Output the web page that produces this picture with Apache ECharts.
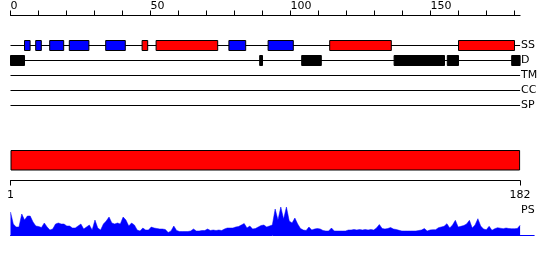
<!DOCTYPE html>
<html><head><meta charset="utf-8">
<script src="https://cdn.jsdelivr.net/npm/echarts@6/dist/echarts.min.js"></script>
<style>html,body{margin:0;padding:0;background:#fff}#c{width:550px;height:260px}</style>
</head><body><div id="c"></div>
<script>
// ---- data ----
const seqLength = 182;
const topTicks = [0,10,20,30,40,50,60,70,80,90,100,110,120,130,140,150,160,170,180];
const topTickLabels = [0,50,100,150];
const bottomTickLabels = [1,182];
const trackNames = ['SS','D','TM','CC','SP'];
// SS segments: [start, end, type]  (H = red, E = blue)
const ssSegments = [
  [5,7,'E'],[9,11,'E'],[14,19,'E'],[21,28,'E'],[34,41,'E'],[47,49,'H'],[52,74,'H'],
  [78,84,'E'],[92,101,'E'],[114,136,'H'],[160,180,'H']
];
// Disorder segments: [start, end]
const dSegments = [[0,5],[89,90],[104,111],[137,155],[156,160],[179,182]];
// domain region bar
const regionSpan = [0,182];
// PS profile, one value per residue 1..182
const psValues = [
  23,11,8,8,21,15,19,19,13,9,
  8.5,7.5,12,8,5,6,11,12,11,11,
  9,9,7,7,9,11,6,8,10,5,
  15,7,5,11,14,18,12,11,12,11,
  18,15,9,12,10,5,4,7,5,5,
  8,7,6.5,6,6,5.5,2.5,4,9,4.5,
  3.5,3.5,3.5,3.5,4,6,4,4,4.5,4.5,
  6,4.5,5,4.5,5,4.5,6,7,7,7,
  8,8.5,10,11.5,7,9,6,6.5,8,9.5,
  10,8,9,10,26,15,28,16,28,14,
  12,17,11,6.5,5,4.5,8,5,6,6.5,
  6,4.5,4,4,7,4,4,4,4,4,
  5,5,5.5,5,5.5,5,5.5,5,5.5,5,
  7,10.5,6.5,6,6.5,7.5,6,5.5,4.7,4,
  4,4,4,4,4,4.5,5,6.5,4,5,
  5.3,5.3,7.3,8,8.7,11.3,7,10,14.7,8,
  8.7,9.5,11,14.7,7,10,16.3,9,6,5.3,
  8.7,4.7,6.3,7.3,6.8,6.3,7,6.5,6.3,6.3,
  6.5,9.7
];

// ---- chart ----
const FONT = 'DejaVu Sans';
const L = 10.5, W = 509.6;
const chart = echarts.init(document.getElementById('c'), null, {renderer:'canvas'});
const psData = psValues.map((v,i)=>[i+1,v]);
const trackIndex = n => 2 + trackNames.indexOf(n);

chart.setOption({
  animation:false,
  backgroundColor:'#fff',
  textStyle:{fontFamily:FONT},
  title:{text:'PS', left:521, top:205, padding:0,
    textStyle:{fontFamily:FONT, fontSize:11, fontWeight:'normal', color:'#000'}},
  grid:[
    {left:L, width:W, top:15.5, height:90},
    {left:L, width:W, top:150, height:20.5},
    {left:L, width:W, top:160, height:20.5},
    {left:L, width:W/181*186, top:205, height:30}
  ],
  xAxis:[
    {gridIndex:0, type:'value', position:'top', min:0, max:seqLength,
     axisLine:{lineStyle:{color:'#000',width:1}},
     axisTick:{length:5, customValues:topTicks, lineStyle:{color:'#000'}},
     axisLabel:{customValues:topTickLabels, align:'left', margin:4, fontSize:11, color:'#000', fontFamily:FONT},
     splitLine:{show:false}},
    {gridIndex:1, type:'value', min:regionSpan[0], max:seqLength, show:false},
    {gridIndex:2, type:'value', min:1, max:seqLength,
     axisLine:{lineStyle:{color:'#000',width:1}},
     axisTick:{length:5, customValues:bottomTickLabels, lineStyle:{color:'#000'}},
     axisLabel:{customValues:bottomTickLabels, margin:9, fontSize:11, color:'#000', fontFamily:FONT},
     splitLine:{show:false}},
    {gridIndex:3, type:'value', min:1, max:187,
     axisLine:{lineStyle:{color:'#0000ff',width:1}},
     axisTick:{show:false}, axisLabel:{show:false}, splitLine:{show:false}}
  ],
  yAxis:[
    {gridIndex:0, type:'value', min:0, max:6, interval:1, inverse:true, position:'right',
     axisLine:{show:false}, axisTick:{show:false}, splitLine:{show:false},
     axisLabel:{margin:1, fontSize:11, color:'#000', fontFamily:FONT,
       formatter:v=> (v>=2 && v<=6) ? trackNames[v-2] : ''}},
    {gridIndex:1, type:'category', data:[''], show:false},
    {gridIndex:2, type:'value', show:false},
    {gridIndex:3, type:'value', min:0, max:30, show:false}
  ],
  series:[
    {type:'custom', xAxisIndex:0, yAxisIndex:0, z:1, clip:false,
     data:trackNames.map(n=>[trackIndex(n)]),
     renderItem:(p,api)=>{
       const a=api.coord([0,api.value(0)]), b=api.coord([seqLength,api.value(0)]);
       return {type:'line', shape:{x1:a[0],y1:a[1],x2:b[0],y2:b[1]}, style:{stroke:'#000',lineWidth:1}};
     }},
    {type:'custom', xAxisIndex:0, yAxisIndex:0, z:2, clip:false,
     data:ssSegments.map(s=>[s[0],s[1],trackIndex('SS'),s[2]==='H'?1:0]),
     renderItem:(p,api)=>{
       const a=api.coord([api.value(0),api.value(2)]), b=api.coord([api.value(1),api.value(2)]);
       return {type:'rect', shape:{x:a[0],y:a[1]-5,width:b[0]-a[0],height:10},
         style:{fill:api.value(3)?'#ff0000':'#0000ff', stroke:'#000', lineWidth:1}};
     }},
    {type:'custom', xAxisIndex:0, yAxisIndex:0, z:2, clip:false,
     data:dSegments.map(s=>[s[0],s[1],trackIndex('D')]),
     renderItem:(p,api)=>{
       const a=api.coord([api.value(0),api.value(2)]), b=api.coord([api.value(1),api.value(2)]);
       return {type:'rect', shape:{x:a[0],y:a[1]-5,width:b[0]-a[0],height:10},
         style:{fill:'#000', stroke:'#000', lineWidth:1}};
     }},
    {type:'bar', xAxisIndex:1, yAxisIndex:1, data:[regionSpan[1]], barWidth:'100%',
     itemStyle:{color:'#ff0000', borderColor:'#000', borderWidth:1}},
    {type:'line', xAxisIndex:3, yAxisIndex:3, data:psData, showSymbol:false, symbol:'none',
     lineStyle:{color:'#0000ff', width:0.5}, areaStyle:{color:'#0000ff', opacity:1}}
  ]
});
</script></body></html>
